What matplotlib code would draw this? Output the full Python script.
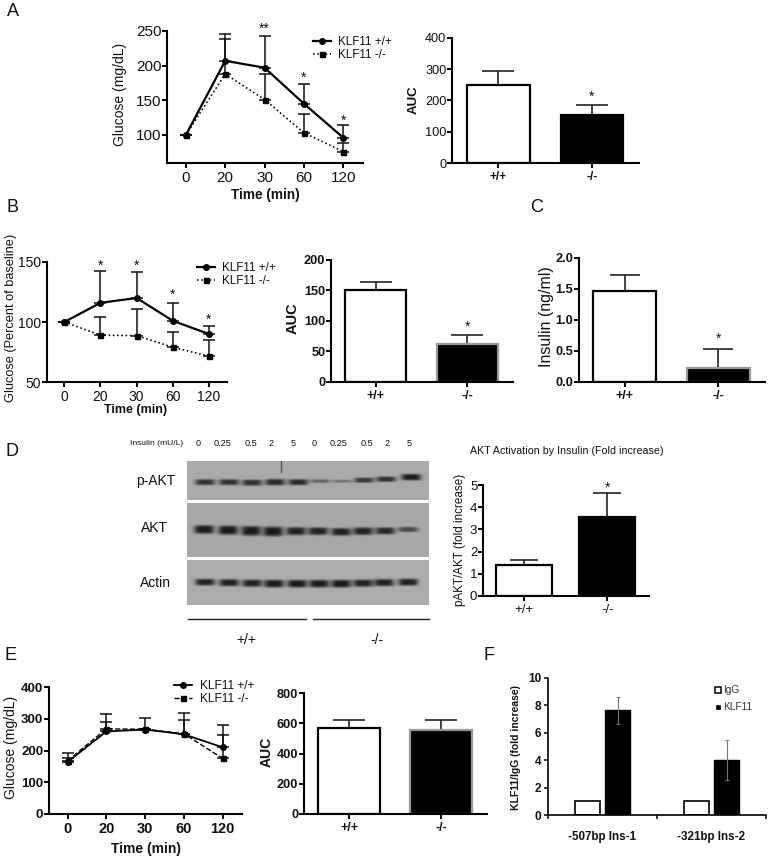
import matplotlib
matplotlib.use("Agg")
import matplotlib.pyplot as plt
import numpy as np
from matplotlib.patches import Rectangle

plt.rcParams['font.family'] = ['Liberation Sans', 'DejaVu Sans']

# =========================================================
# Global parameters
# =========================================================
W, H = 772, 859
DPI = 100
TIME_LABELS = ["0", "20", "30", "60", "120"]
GENO = ["+/+", "-/-"]

# ---- A: glucose tolerance ----
A_WT = [100, 207, 197, 145, 96]
A_WT_TOP = [100, 246, 243, 174, 114]
A_KO = [100, 188, 151, 103, 76]
A_KO_TOP = [100, 238, 188, 130, 89]
A_STARS = ["", "", "**", "*", "*"]
A_AUC = [248, 152]
A_AUC_TOP = [293, 186]

# ---- B: insulin tolerance ----
B_WT = [100, 116, 120, 101, 90]
B_WT_TOP = [100, 142.5, 142, 116, 97]
B_KO = [100, 89, 88.6, 79, 71.5]
B_KO_TOP = [100, 104.4, 111, 92, 85]
B_STARS = ["", "*", "*", "*", "*"]
B_AUC = [151, 62]
B_AUC_TOP = [164, 77.6]

# ---- C: insulin ----
C_INS = [1.47, 0.22]
C_INS_TOP = [1.73, 0.53]

# ---- D: blot and quantification ----
D_FOLD = [1.41, 3.57]
D_FOLD_TOP = [1.62, 4.62]
LANE_LABELS = ["0", "0.25", "0.5", "2", "5", "0", "0.25", "0.5", "2", "5"]
LANE_LABEL_X = [198, 223, 251, 271, 293, 314, 339, 367, 387, 409]
PAKT_X = [205, 229, 252, 275, 298, 320, 342, 364, 386, 411]
PAKT_Y = [21, 21, 21.5, 21, 21, 20, 20, 19, 18, 16]
PAKT_DARK = [0.8, 0.8, 0.8, 0.85, 0.85, 0.45, 0.35, 0.75, 0.8, 0.95]
PAKT_THICK = [3.0, 3.0, 3.0, 3.2, 3.0, 1.9, 1.6, 2.6, 2.7, 3.2]
AKT_X = [204, 228, 251, 273, 296, 318, 341, 363, 385, 408]
AKT_Y = [26.3, 27, 27.7, 28.3, 28, 28, 28.7, 28, 27.7, 26.3]
AKT_DARK = [0.95, 0.95, 0.95, 0.95, 0.9, 0.9, 0.9, 0.9, 0.85, 0.65]
AKT_THICK = [4.2, 4.5, 4.8, 4.8, 4.0, 3.8, 3.8, 3.8, 3.5, 2.6]
ACTIN_X = [205, 229, 252, 274, 297, 319, 341, 363, 384, 408]
ACTIN_Y = [22, 22.5, 23, 23.5, 23.5, 23.5, 23.5, 23, 22.5, 22]
ACTIN_DARK = [0.9, 0.9, 0.9, 0.95, 0.95, 0.95, 0.95, 0.9, 0.9, 0.9]
ACTIN_THICK = [3.3, 3.5, 3.6, 3.8, 3.8, 3.8, 3.8, 3.6, 3.6, 3.5]

# ---- E: glucose ----
E_WT = [164, 260, 266, 251, 210]
E_WT_TOP = [192, 316, 301, 318, 279]
E_KO = [168, 268, 267, 253, 175]
E_KO_TOP = [175, 289, 267, 296, 248]
E_AUC = [568, 557]
E_AUC_TOP = [620, 620]

# ---- F: ChIP ----
F_GROUPS = ["-507bp Ins-1", "-321bp Ins-2"]
F_IGG = [1, 1]
F_KLF = [7.63, 3.98]
F_KLF_ERR = [0.98, 1.46]


# =========================================================
# Helpers
# =========================================================
fig = plt.figure(figsize=(W / DPI, H / DPI), dpi=DPI)


def make_ax(x0, x1, ytop, ybot, lw=1.5):
    ax = fig.add_axes([x0 / W, 1 - ybot / H, (x1 - x0) / W, (ybot - ytop) / H])
    ax.spines["top"].set_visible(False)
    ax.spines["right"].set_visible(False)
    ax.spines["left"].set_linewidth(lw)
    ax.spines["bottom"].set_linewidth(lw)
    ax.patch.set_alpha(0)
    return ax


def txt(x, y, s, size, weight="normal", rot=0, ha="center", color="#111111"):
    fig.text(x / W, 1 - y / H, s, fontsize=size, fontweight=weight, rotation=rot,
             ha=ha, va="center", color=color)


def style_ticks(ax, yticks, ylabels, size, weight, xsize=None, xweight=None):
    ax.set_yticks(yticks)
    ax.set_yticklabels(ylabels, fontsize=size, fontweight=weight, color="#111111")
    for lab in ax.get_xticklabels():
        lab.set_fontsize(xsize or size)
        lab.set_fontweight(xweight or weight)
        lab.set_color("#111111")
    ax.tick_params(axis="y", direction="out", length=3.3, width=1.4, pad=0.8)
    ax.tick_params(axis="x", direction="out", length=3.6, width=1.4, pad=2.5)


def line_panel(ax, wt, wt_top, ko, ko_top, ko_style, stars=None, star_y=None, ylim=None,
               ko_lw=1.15, wt_lw=1.6):
    x = np.arange(5)
    for m, t in ((wt, wt_top), (ko, ko_top)):
        m, t = np.array(m), np.array(t)
        ax.errorbar(x, m, yerr=[np.zeros(5), t - m], fmt="none", ecolor="#111111",
                    elinewidth=1.1, capsize=4.6, capthick=1.1, zorder=2)
    l1, = ax.plot(x, wt, "-o", color="black", lw=wt_lw, ms=4, label="KLF11 +/+", zorder=3)
    l2, = ax.plot(x, ko, ls=ko_style, marker="s", color="black", lw=ko_lw, ms=3.6,
                  label="KLF11 -/-", zorder=3)
    ax.set_xticks(x)
    ax.set_xticklabels(TIME_LABELS)
    ax.set_xlim(-0.48, 4.5)
    ax.set_ylim(*ylim)
    if stars:
        for i, s in enumerate(stars):
            if s:
                ax.text(i, star_y[i], s, ha="center", va="center", fontsize=10, color="#111111")
    return l1, l2


def legend_at(ax, x, y, size):
    # upper left corner of the legend in figure pixels
    ax.legend(loc="upper left", bbox_to_anchor=(x / W, 1 - y / H), bbox_transform=fig.transFigure,
              frameon=False, fontsize=size, borderpad=0, borderaxespad=0, handlelength=1.5,
              handletextpad=0.65, labelspacing=0.1, labelcolor="#111111")


def bar_panel(ax, vals, tops, ylim, ko_edge="black", star=None, err_color="#222222", cap=11.5, lw=1.6):
    x = np.arange(2)
    ax.bar(x, vals, width=0.67, color=["white", "black"], edgecolor=["black", ko_edge], linewidth=lw, zorder=2)
    vals, tops = np.array(vals), np.array(tops)
    ax.errorbar(x, vals, yerr=[np.zeros(2), tops - vals], fmt="none", ecolor=err_color,
                elinewidth=1.2, capsize=cap, capthick=1.2, zorder=1)
    ax.set_xticks(x)
    ax.set_xticklabels(GENO)
    ax.set_xlim(-0.49, 1.5)
    ax.set_ylim(*ylim)
    if star is not None:
        ax.text(1, star, "*", ha="center", va="center", fontsize=10, color="#111111")


def blot_row(y0, y1, xs, ys, dark, thick, bg=168):
    # one gel strip, bands are painted into a small gray image
    x0, x1 = 187, 429
    yy, xx = np.mgrid[0:(y1 - y0) * 3, 0:(x1 - x0) * 3]
    xx = xx / 3 + x0
    yy = yy / 3
    img = np.full(xx.shape, float(bg))
    for bx, by, d, t in zip(xs, ys, dark, thick):
        shape = np.exp(-((xx - bx) / 10) ** 4) * np.exp(-((yy - by) / t) ** 4)
        img -= (bg - 18) * d * shape
    ax = fig.add_axes([x0 / W, 1 - y1 / H, (x1 - x0) / W, (y1 - y0) / H])
    ax.imshow(img, cmap="gray", vmin=0, vmax=255, aspect="auto", interpolation="bilinear")
    ax.axis("off")


# =========================================================
# Panel A
# =========================================================
ax = make_ax(167, 363, 31, 163)
line_panel(ax, A_WT, A_WT_TOP, A_KO, A_KO_TOP, ":", A_STARS, [0, 0, 253, 182, 121], ylim=(59.5, 250))
style_ticks(ax, [100, 150, 200, 250], ["100", "150", "200", "250"], 11, "normal")
legend_at(ax, 313, 36, 8.4)
txt(120, 94, "Glucose (mg/dL)", 10, rot=90)
txt(265, 195, "Time (min)", 9.8, "bold")

ax = make_ax(452, 639, 38, 163)
bar_panel(ax, A_AUC, A_AUC_TOP, (0, 400), star=211)
style_ticks(ax, [0, 100, 200, 300, 400], ["0", "100", "200", "300", "400"], 9.2, "normal", xweight="bold", xsize=8.5)
txt(414, 100, "AUC", 9.5, "bold", rot=90)

# =========================================================
# Panel B
# =========================================================
ax = make_ax(47, 227, 262, 382)
line_panel(ax, B_WT, B_WT_TOP, B_KO, B_KO_TOP, ":", B_STARS, [0, 146.7, 146.7, 122.3, 101.5], ylim=(50, 150))
style_ticks(ax, [50, 100, 150], ["50", "100", "150"], 10, "normal")
legend_at(ax, 197, 262, 8.4)
txt(11, 318, "Glucose (Percent of baseline)", 9.2, rot=90)
txt(136, 410, "Time (min)", 9, "bold")

ax = make_ax(331, 513, 260, 382)
bar_panel(ax, B_AUC, B_AUC_TOP, (0, 200), ko_edge="#999999", star=90)
style_ticks(ax, [0, 50, 100, 150, 200], ["0", "50", "100", "150", "200"], 9.2, "bold", xsize=9)
txt(293, 318, "AUC", 10.5, "bold", rot=90)

# =========================================================
# Panel C
# =========================================================
ax = make_ax(579, 765, 258, 382)
bar_panel(ax, C_INS, C_INS_TOP, (0, 2), ko_edge="#999999", star=0.69, cap=11)
style_ticks(ax, [0, 0.5, 1, 1.5, 2], ["0.0", "0.5", "1.0", "1.5", "2.0"], 9.2, "bold", xsize=9)
txt(547, 317, "Insulin (ng/ml)", 11.5, rot=90)

# =========================================================
# Panel D
# =========================================================
blot_row(461, 500, PAKT_X, PAKT_Y, PAKT_DARK, PAKT_THICK, bg=170)
blot_row(503, 557, AKT_X, AKT_Y, AKT_DARK, AKT_THICK, bg=168)
blot_row(560, 605, ACTIN_X, ACTIN_Y, ACTIN_DARK, ACTIN_THICK, bg=172)
fig.add_artist(plt.Line2D([281 / W, 281 / W], [1 - 461 / H, 1 - 472 / H], color="#555555", lw=1))
txt(130, 443, "Insulin (mU/L)", 6.1, ha="left")
for lx, lab in zip(LANE_LABEL_X, LANE_LABELS):
    txt(lx, 443, lab, 6.6)
txt(156, 481, "p-AKT", 10)
txt(154, 528, "AKT", 10)
txt(155, 583, "Actin", 10)
fig.add_artist(plt.Line2D([188 / W, 306 / W], [1 - 619 / H] * 2, color="#222222", lw=1))
fig.add_artist(plt.Line2D([313 / W, 429 / W], [1 - 619 / H] * 2, color="#222222", lw=1))
txt(246, 640, "+/+", 10)
txt(377, 640, "-/-", 10)

ax = make_ax(483, 649, 485, 596)
bar_panel(ax, D_FOLD, D_FOLD_TOP, (0, 5), star=4.89, cap=10)
style_ticks(ax, [0, 1, 2, 3, 4, 5], ["0", "1", "2", "3", "4", "5"], 9.5, "normal", xsize=9.5)
txt(460, 540, "pAKT/AKT (fold increase)", 8.4, rot=90)
txt(470, 451, "AKT Activation by Insulin (Fold increase)", 7.7, ha="left")

# =========================================================
# Panel E
# =========================================================
ax = make_ax(49, 242, 687, 814)
line_panel(ax, E_WT, E_WT_TOP, E_KO, E_KO_TOP, "--", ylim=(0, 400), wt_lw=1.3, ko_lw=1.0)
style_ticks(ax, [0, 100, 200, 300, 400], ["0", "100", "200", "300", "400"], 9.5, "bold", xsize=10.5)
legend_at(ax, 174, 680, 8.6)
txt(11, 747, "Glucose (mg/dL)", 10, rot=90)
txt(146, 849, "Time (min)", 10, "bold")

ax = make_ax(304, 487, 693, 814)
bar_panel(ax, E_AUC, E_AUC_TOP, (0, 800), ko_edge="#999999")
style_ticks(ax, [0, 200, 400, 600, 800], ["0", "200", "400", "600", "800"], 9.2, "bold", xsize=9)
txt(267, 752, "AUC", 10, "bold", rot=90)

# =========================================================
# Panel F
# =========================================================
ax = make_ax(548, 766, 678, 815, lw=1.2)
xf = np.array([0.5, 1.5])
ax.bar(xf - 0.14, F_IGG, width=0.23, color="white", edgecolor="black", linewidth=1.2, label="IgG")
ax.bar(xf + 0.14, F_KLF, width=0.23, color="black", edgecolor="black", linewidth=1.0, label="KLF11")
ax.errorbar(xf + 0.14, F_KLF, yerr=F_KLF_ERR, fmt="none", ecolor="#777777", elinewidth=0.8, capsize=1.2, capthick=0.8)
ax.set_xlim(0, 2)
ax.set_ylim(0, 10)
ax.set_xticks([0, 1, 2])
ax.set_xticklabels([])
ax.set_yticks([0, 2, 4, 6, 8, 10])
ax.set_yticklabels(["0", "2", "4", "6", "8", "10"], fontsize=8.5, fontweight="bold", color="#111111")
ax.tick_params(axis="both", direction="out", length=3, width=1.1, pad=2)
for g, c in zip(F_GROUPS, xf):
    ax.annotate(g, (c, 0), xytext=(0, -16), textcoords="offset points", ha="center", va="center",
                fontsize=8.4, fontweight="bold", color="#111111")
txt(516, 747, "KLF11/IgG (fold increase)", 7.5, "bold", rot=90)
fig.add_artist(Rectangle((715 / W, 1 - 693 / H), 6 / W, 6 / H, transform=fig.transFigure,
                         facecolor="white", edgecolor="black", lw=1.1))
fig.add_artist(Rectangle((716 / W, 1 - 709 / H), 4 / W, 4 / H, transform=fig.transFigure,
                         facecolor="black", edgecolor="black", lw=0.5))
txt(723, 690, "IgG", 7.3, ha="left", color="#333333")
txt(723, 707, "KLF11", 7.3, ha="left", color="#333333")

# =========================================================
# Panel letters
# =========================================================
for lab, lx, ly in [("A", 13, 12), ("B", 12, 207), ("C", 537, 207), ("D", 12, 451), ("E", 11, 655), ("F", 489, 655)]:
    txt(lx, ly, lab, 13)

plt.savefig("out.png", dpi=DPI)
plt.close()
